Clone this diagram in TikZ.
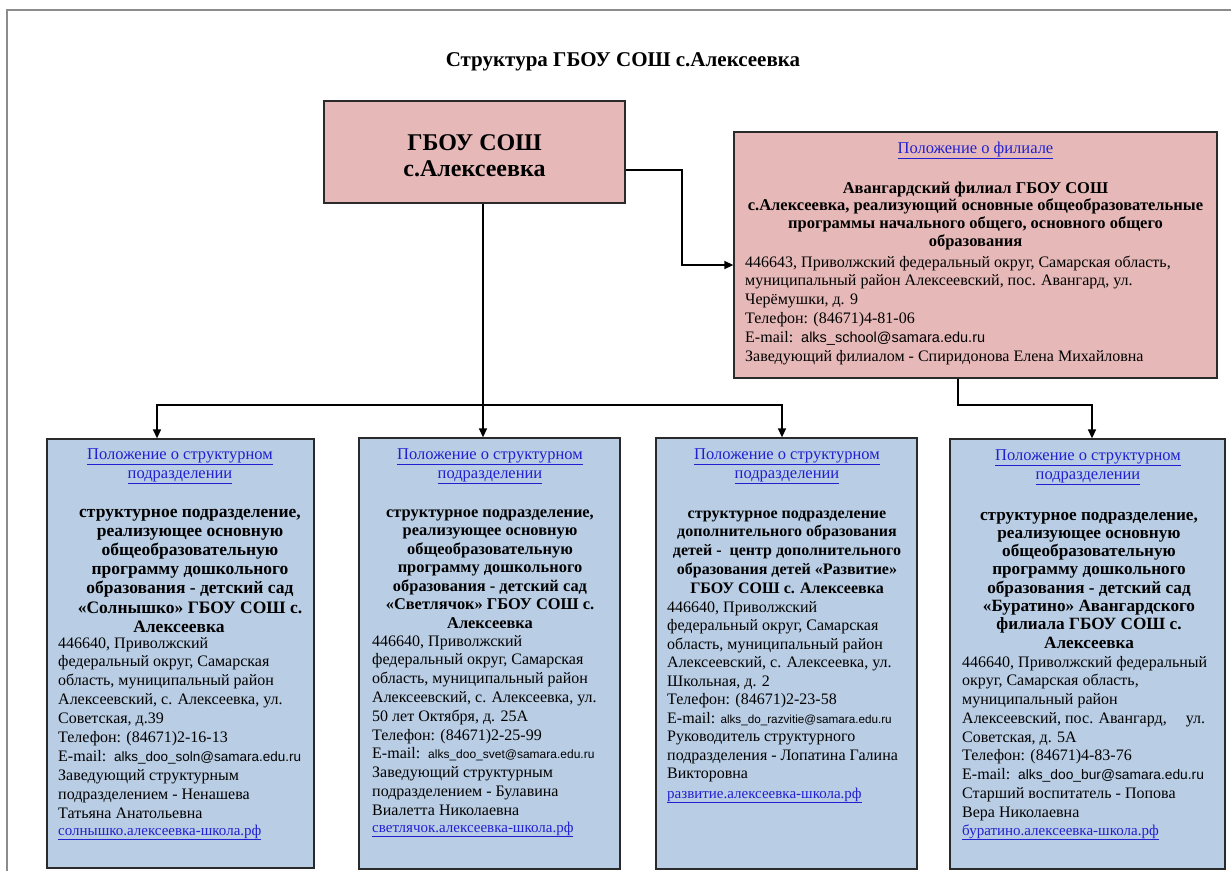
\documentclass[tikz,border=0pt]{standalone}
\usepackage{graphicx}
\usepackage{fontspec}
\setmainfont{Liberation Serif}
\setsansfont{Liberation Sans}
\usetikzlibrary{arrows.meta,calc}
\definecolor{pinkc}{HTML}{E6B9B8}
\definecolor{bluec}{HTML}{B9CDE4}
\definecolor{linkc}{HTML}{2020D0}
\definecolor{edgec}{HTML}{2A2A2A}
\definecolor{framec}{HTML}{8C8C8C}
\newcommand\lnk[1]{\textcolor{linkc}{\underline{#1}}}
\newcommand\eml[2]{{\sffamily\fontsize{#1}{18}\selectfont #2}}
\newcommand\cblk[1]{\vtop{\hsize=500pt\parindent=0pt\parskip=0pt\centering #1\par}}
\newcommand\lblk[1]{\vtop{\hsize=500pt\parindent=0pt\parskip=0pt\raggedright #1\par}}
\tikzset{
  pinkbox/.style={draw=edgec,fill=pinkc,line width=1.3pt,inner sep=0pt},
  bluebox/.style={draw=edgec,fill=bluec,line width=1.3pt,inner sep=0pt},
  conn/.style={draw=black,line width=1.4pt,line join=miter},
  arr/.style={conn,-{Triangle[length=9pt,width=8pt]}},
  tb/.style={inner sep=0pt,anchor=base},
  tl/.style={inner sep=0pt,anchor=base west},
}
\begin{document}
\begin{tikzpicture}[x=1pt,y=-1pt]
\useasboundingbox (0,0) rectangle (1231,871);
\fill[white] (0,0) rectangle (1231,871);
\draw[framec,line width=2pt] (7,871) -- (7,10) -- (1231,10);

% title
\node[tb] (title) at (623,66) {\fontsize{21}{24}\selectfont\bfseries Структура ГБОУ СОШ с.Алексеевка};

% boxes
\node[pinkbox,minimum width=301pt,minimum height=102pt] (main) at (474.5,152) {};
\node[pinkbox,minimum width=483pt,minimum height=246pt] (branch) at (975.5,255) {};
\node[bluebox,minimum width=267pt,minimum height=429pt] (b1) at (180.5,653.5) {};
\node[bluebox,minimum width=261pt,minimum height=431pt] (b2) at (489.5,653.5) {};
\node[bluebox,minimum width=261pt,minimum height=431pt] (b3) at (786.5,653.5) {};
\node[bluebox,minimum width=275pt,minimum height=430pt] (b4) at (1087.5,654) {};

% main text
\node[tb] (maint) at (474.5,150) {\cblk{\fontsize{24}{26}\selectfont\bfseries ГБОУ СОШ\\с.Алексеевка}};

% branch text
\node[tb] (brl) at (975.5,153) {\cblk{\fontsize{16.5}{19}\selectfont\lnk{Положение о филиале}}};
\node[tb] (brb) at (975.5,193) {\cblk{\fontsize{16.5}{17.7}\selectfont\bfseries Авангардский филиал ГБОУ СОШ\\с.Алексеевка, реализующий основные общеобразовательные\\программы начального общего, основного общего\\образования}};
\node[tl] (brn) at (745,267) {\lblk{\fontsize{16}{18.8}\selectfont 446643, Приволжский федеральный округ, Самарская область,\\муниципальный район Алексеевский, пос. Авангард, ул.\\Черёмушки, д. 9\\Телефон: (84671)4-81-06\\E-mail:\ \ \eml{14.5}{alks\_school@samara.edu.ru}\\Заведующий филиалом - Спиридонова Елена Михайловна}};

% box 1
\node[tb] (t1a) at (180,459) {\cblk{\fontsize{16.5}{19}\selectfont\lnk{Положение о структурном}\\\lnk{подразделении}}};
\node[tb] (t1b) at (190,517) {\cblk{\fontsize{17.5}{19.2}\selectfont\bfseries структурное подразделение,\\реализующее основную\\общеобразовательную\\программу дошкольного\\образования - детский сад\\«Солнышко» ГБОУ СОШ с.\\\hspace*{-22pt}Алексеевка}};
\node[tl] (t1c) at (58,648) {\lblk{\fontsize{16}{18.9}\selectfont 446640, Приволжский\\федеральный округ, Самарская\\область, муниципальный район\\Алексеевский, с. Алексеевка, ул.\\Советская, д.39\\Телефон: (84671)2-16-13\\E-mail:\ \ \eml{13.5}{alks\_doo\_soln@samara.edu.ru}\\Заведующий структурным\\подразделением - Ненашева\\Татьяна Анатольевна}};
\node[tl] (t1d) at (58,835) {\fontsize{15}{17}\selectfont\lnk{солнышко.алексеевка-школа.рф}};

% box 2
\node[tb] (t2a) at (490,459) {\cblk{\fontsize{16.5}{19}\selectfont\lnk{Положение о структурном}\\\lnk{подразделении}}};
\node[tb] (t2b) at (490,517) {\cblk{\fontsize{16.4}{18.5}\selectfont\bfseries структурное подразделение,\\реализующее основную\\общеобразовательную\\программу дошкольного\\образования - детский сад\\«Светлячок» ГБОУ СОШ с.\\Алексеевка}};
\node[tl] (t2c) at (372,646) {\lblk{\fontsize{16}{18.8}\selectfont 446640, Приволжский\\федеральный округ, Самарская\\область, муниципальный район\\Алексеевский, с. Алексеевка, ул.\\50 лет Октября, д. 25А\\Телефон: (84671)2-25-99\\E-mail:\ \ \eml{12}{alks\_doo\_svet@samara.edu.ru}\\Заведующий структурным\\подразделением - Булавина\\Виалетта Николаевна}};
\node[tl] (t2d) at (372,832) {\fontsize{15}{17}\selectfont\lnk{светлячок.алексеевка-школа.рф}};

% box 3
\node[tb] (t3a) at (787,459) {\cblk{\fontsize{16.5}{19}\selectfont\lnk{Положение о структурном}\\\lnk{подразделении}}};
\node[tb] (t3b) at (787,518) {\cblk{\fontsize{16}{18.75}\selectfont\bfseries структурное подразделение\\дополнительного образования\\детей -\ \ центр дополнительного\\образования детей «Развитие»\\ГБОУ СОШ с. Алексеевка}};
\node[tl] (t3c) at (667,612) {\lblk{\fontsize{16}{18.5}\selectfont 446640, Приволжский\\федеральный округ, Самарская\\область, муниципальный район\\Алексеевский, с. Алексеевка, ул.\\Школьная, д. 2\\Телефон: (84671)2-23-58\\E-mail: \eml{11.7}{alks\_do\_razvitie@samara.edu.ru}\\Руководитель структурного\\подразделения - Лопатина Галина\\Викторовна}};
\node[tl] (t3d) at (667,798) {\fontsize{15}{17}\selectfont\lnk{развитие.алексеевка-школа.рф}};

% box 4
\node[tb] (t4a) at (1088,460) {\cblk{\fontsize{16.5}{19}\selectfont\lnk{Положение о структурном}\\\lnk{подразделении}}};
\node[tb] (t4b) at (1089,520) {\cblk{\fontsize{17.2}{18.3}\selectfont\bfseries структурное подразделение,\\реализующее основную\\общеобразовательную\\программу дошкольного\\образования - детский сад\\«Буратино» Авангардского\\филиала ГБОУ СОШ с.\\Алексеевка}};
\node[tl] (t4c) at (962,667) {\lblk{\fontsize{16}{18.75}\selectfont 446640, Приволжский федеральный\\округ, Самарская область,\\муниципальный район\\\leavevmode\hbox to 243pt{Алексеевский, пос. Авангард,\hfill ул.}\\Советская, д. 5А\\Телефон: (84671)4-83-76\\E-mail:\ \ \eml{13.8}{alks\_doo\_bur@samara.edu.ru}\\Старший воспитатель - Попова\\Вера Николаевна}};
\node[tl] (t4d) at (962,835) {\fontsize{15}{17}\selectfont\lnk{буратино.алексеевка-школа.рф}};

% connectors
\coordinate (j1) at (682,170);
\coordinate (j2) at (682,265);
\draw[arr] (main.east |- j1) -- (j1) -- (j2) -- (branch.west |- j2);

\coordinate (m1) at (483,405);
\coordinate (k1) at (157,405);
\coordinate (k3) at (782,405);
\draw[conn] (main.south -| m1) -- (m1);
\draw[arr] (m1) -- (k1) -- (b1.north -| k1);
\draw[arr] (m1) -- (b2.north -| m1);
\draw[arr] (m1) -- (k3) -- (b3.north -| k3);

\coordinate (q1) at (958,405);
\coordinate (q2) at (1092,405);
\draw[arr] (branch.south -| q1) -- (q1) -- (q2) -- (b4.north -| q2);
\end{tikzpicture}
\end{document}
